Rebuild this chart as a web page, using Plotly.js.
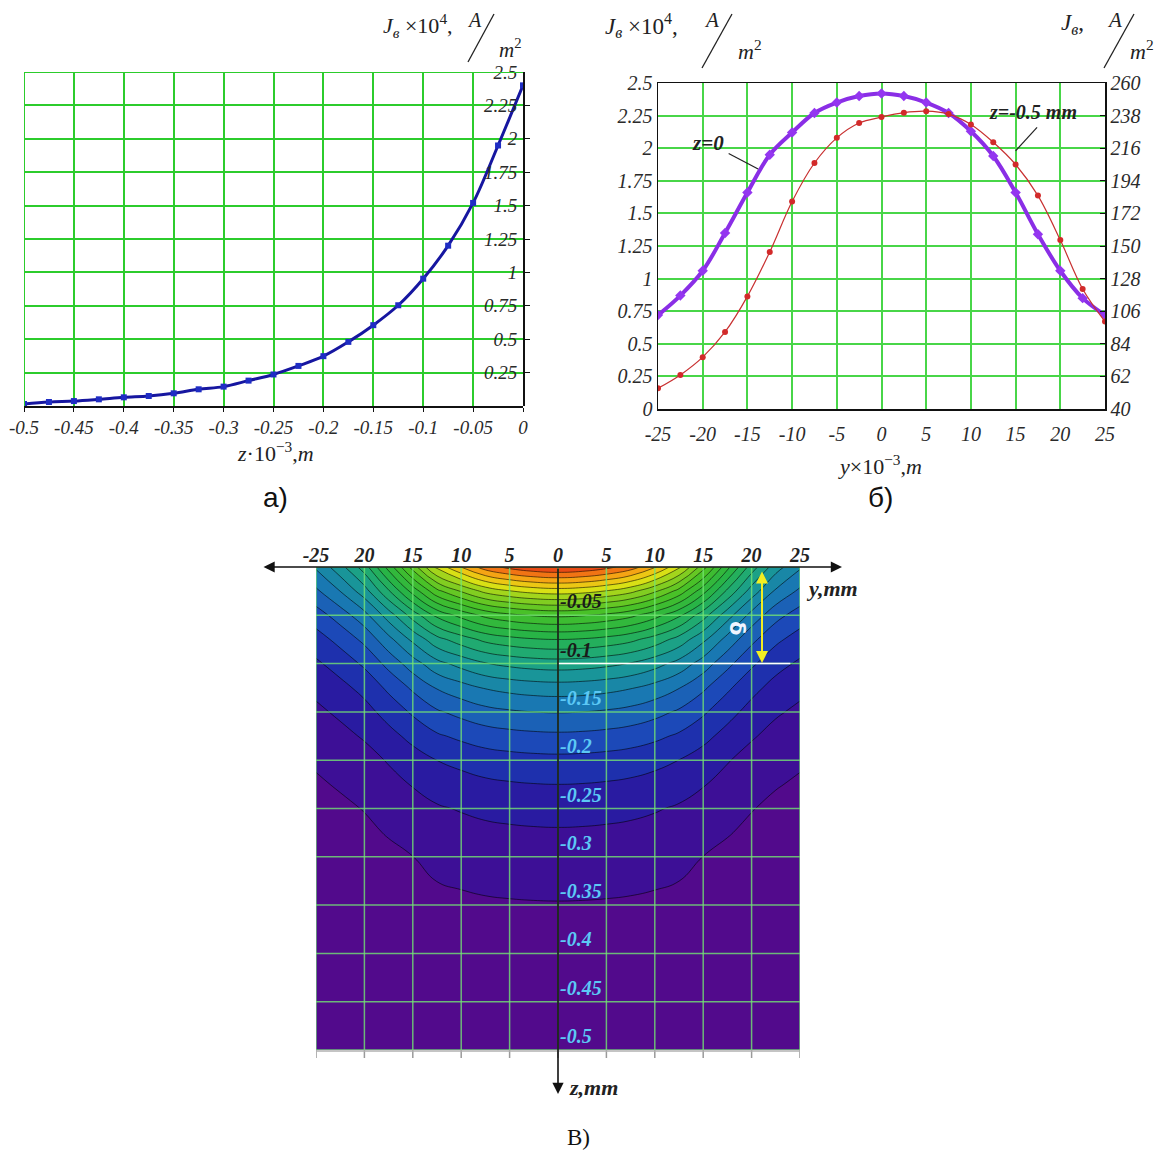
<!DOCTYPE html>
<html><head><meta charset="utf-8">
<script src="https://cdn.plot.ly/plotly-3.0.1.min.js"></script>
<style>html,body{margin:0;padding:0;background:#fff}#chart{width:1155px;height:1151px}</style>
</head><body><div id="chart"></div>
<script>
// ---------- Panel а): J vs depth z ----------
const depthZ = [-0.5,-0.475,-0.45,-0.425,-0.4,-0.375,-0.35,-0.325,-0.3,-0.275,-0.25,-0.225,-0.2,-0.175,-0.15,-0.125,-0.1,-0.075,-0.05,-0.025,0];
const depthJ = [0.015,0.03,0.037,0.05,0.065,0.075,0.095,0.125,0.145,0.19,0.236,0.30,0.373,0.48,0.605,0.754,0.953,1.20,1.52,1.95,2.40];
const aXTicks = [-0.5,-0.45,-0.4,-0.35,-0.3,-0.25,-0.2,-0.15,-0.1,-0.05,0];
const aXText = ['-0.5','-0.45','-0.4','-0.35','-0.3','-0.25','-0.2','-0.15','-0.1','-0.05','0'];
const aYTicks = [0.25,0.5,0.75,1,1.25,1.5,1.75,2,2.25,2.5];
const aYText = ['0.25','0.5','0.75','1','1.25','1.5','1.75','2','2.25','2.5'];

// ---------- Panel б): J vs y ----------
const lateralY = [-25,-22.5,-20,-17.5,-15,-12.5,-10,-7.5,-5,-2.5,0,2.5,5,7.5,10,12.5,15,17.5,20,22.5,25];
const jSurface = [0.72,0.87,1.06,1.35,1.66,1.95,2.12,2.27,2.35,2.40,2.42,2.40,2.35,2.27,2.13,1.94,1.66,1.34,1.06,0.85,0.72];
const jDeep = [54,63,75,92,116,146,180,206,223,233,237,240,241,239,232,220,205,184,154,121,99];
const bXTicks = [-25,-20,-15,-10,-5,0,5,10,15,20,25];
const bXText = ['-25','-20','-15','-10','-5','0','5','10','15','20','25'];
const bYTicks = [0,0.25,0.5,0.75,1,1.25,1.5,1.75,2,2.25,2.5];
const bYText = ['0','0.25','0.5','0.75','1','1.25','1.5','1.75','2','2.25','2.5'];
const bY2Ticks = [40,62,84,106,128,150,172,194,216,238,260];

// ---------- Panel В): contour map ----------
const cYTicks = [-25,-20,-15,-10,-5,0,5,10,15,20,25];
const cYText = ['-25','20','15','10','5','0','5','10','15','20','25'];
const cZTicks = [-0.05,-0.1,-0.15,-0.2,-0.25,-0.3,-0.35,-0.4,-0.45,-0.5];
const cZText = ['-0.05','-0.1','-0.15','-0.2','-0.25','-0.3','-0.35','-0.4','-0.45','-0.5'];
const cZColor = ['#1a1a1a','#1a1a1a','#5cc8f5','#5cc8f5','#5cc8f5','#5cc8f5','#5cc8f5','#5cc8f5','#5cc8f5','#5cc8f5'];
const cGridZ = [0,-0.05,-0.1,-0.15,-0.2,-0.25,-0.3,-0.35,-0.4,-0.45,-0.5];

// contour table built from the two read profiles (depth decay x lateral shape)
const peakJ = Math.max(...jSurface);
const field = depthZ.map((z, i) => jSurface.map(v => depthJ[i] * v / peakJ));

const W = 1155, H = 1151;
const px = x => x / W;
const py = y => 1 - y / H;

const serif = 'Liberation Serif';
const green = '#2ccc2c';

const traces = [
  {x: depthZ, y: depthJ, xaxis: 'x', yaxis: 'y', mode: 'lines+markers',
   line: {color: '#1616a0', width: 3, shape: 'spline'},
   marker: {symbol: 'square', size: 6, color: '#1f2dc4'}, hoverinfo: 'skip'},
  {x: lateralY, y: jSurface, xaxis: 'x2', yaxis: 'y2', mode: 'lines+markers',
   line: {color: '#8a2ee6', width: 4, shape: 'spline'},
   marker: {symbol: 'diamond', size: 8, color: '#9436f0'}, hoverinfo: 'skip'},
  {x: lateralY, y: jDeep, xaxis: 'x2', yaxis: 'y4', mode: 'lines+markers',
   line: {color: '#c83030', width: 1.2, shape: 'spline'},
   marker: {symbol: 'circle', size: 6, color: '#d22a2a'}, hoverinfo: 'skip'},
  {type: 'contour', x: lateralY, y: depthZ, z: field, xaxis: 'x3', yaxis: 'y3',
   contours: {start: 0.1, end: 2.4, size: 0.1, coloring: 'fill', showlines: true},
   line: {color: 'rgba(0,0,0,0.8)', width: 0.7, smoothing: 1.3},
   zmin: 0, zmax: 2.45, showscale: false, hoverinfo: 'skip',
   colorscale: [
     [0.0, 'rgb(82,10,140)'], [0.04, 'rgb(62,15,150)'], [0.08, 'rgb(42,25,160)'],
     [0.12, 'rgb(30,45,172)'], [0.17, 'rgb(28,75,185)'], [0.25, 'rgb(25,120,178)'],
     [0.33, 'rgb(25,148,155)'], [0.40, 'rgb(30,168,122)'], [0.5, 'rgb(40,180,70)'],
     [0.62, 'rgb(70,192,40)'], [0.74, 'rgb(150,210,30)'], [0.8, 'rgb(228,226,20)'],
     [0.87, 'rgb(245,170,20)'], [0.93, 'rgb(240,100,20)'], [1.0, 'rgb(220,35,20)']
   ]}
];

const tickFontA = {family: serif, size: 19, style: 'italic', color: '#2a2a2a'};
const tickFontB = {family: serif, size: 20, style: 'italic', color: '#2a2a2a'};

const shapes = [];
// panel а green top/left border lines
shapes.push({type: 'line', xref: 'x', yref: 'y', x0: -0.5, x1: 0, y0: 2.5, y1: 2.5, line: {color: green, width: 2}});
shapes.push({type: 'line', xref: 'x', yref: 'y', x0: -0.5, x1: -0.5, y0: 0, y1: 2.5, line: {color: green, width: 2}});
// contour grid drawn above the filled field
cYTicks.forEach(v => shapes.push({type: 'line', xref: 'x3', yref: 'y3', x0: v, x1: v, y0: -0.5, y1: 0,
  line: {color: 'rgba(115,228,115,0.8)', width: 1.5}, layer: 'above'}));
cGridZ.forEach(v => shapes.push({type: 'line', xref: 'x3', yref: 'y3', x0: -25, x1: 25, y0: v, y1: v,
  line: {color: 'rgba(115,228,115,0.8)', width: 1.5}, layer: 'above'}));
// bottom ticks of contour
cYTicks.forEach(v => shapes.push({type: 'line', xref: 'x3', yref: 'paper', x0: v, x1: v, y0: py(1050), y1: py(1058),
  line: {color: '#9a9a9a', width: 1.5}}));
shapes.push({type: 'line', xref: 'x3', yref: 'paper', x0: -25, x1: 25, y0: py(1051), y1: py(1051),
  line: {color: '#b0b0b0', width: 1.5}});
// white δ marker line
shapes.push({type: 'line', xref: 'x3', yref: 'y3', x0: 0, x1: 24, y0: -0.1, y1: -0.1,
  line: {color: '#ffffff', width: 1.5}, layer: 'above'});
// slashes in unit fractions
[[468, 62, 494, 14], [702, 68, 732, 14], [1104, 68, 1134, 14]].forEach(s =>
  shapes.push({type: 'line', xref: 'paper', yref: 'paper', x0: px(s[0]), y0: py(s[1]), x1: px(s[2]), y1: py(s[3]),
    line: {color: '#222', width: 1.3}}));
// panel б leader lines
shapes.push({type: 'line', xref: 'x2', yref: 'y2', x0: -17.1, y0: 1.96, x1: -13.8, y1: 1.84, line: {color: '#222', width: 1.2}});
shapes.push({type: 'line', xref: 'x2', yref: 'y2', x0: 17.4, y0: 2.16, x1: 15.0, y1: 1.98, line: {color: '#222', width: 1.2}});

const ann = [];
function pa(text, x, y, size, opts) {
  ann.push(Object.assign({text: text, xref: 'paper', yref: 'paper', x: px(x), y: py(y), showarrow: false,
    font: {family: serif, size: size, color: '#222'}, xanchor: 'center', yanchor: 'middle'}, opts || {}));
}
// panel а title
pa('<i>J<sub>в</sub></i> ×10<sup>4</sup>,', 418, 26, 22);
pa('<i>A</i>', 474, 20, 20);
pa('<i>m</i><sup>2</sup>', 510, 48, 21);
pa('<i>z</i>·10<sup>−3</sup>,<i>m</i>', 275, 452, 22);
// panel б titles
pa('<i>J<sub>в</sub></i> ×10<sup>4</sup>,', 641, 26, 23);
pa('<i>A</i>', 711, 20, 21);
pa('<i>m</i><sup>2</sup>', 750, 50, 22);
pa('<i>J<sub>в</sub></i>,', 1072, 24, 23);
pa('<i>A</i>', 1114, 20, 21);
pa('<i>m</i><sup>2</sup>', 1142, 50, 22);
pa('<i>y</i>×10<sup>−3</sup>,<i>m</i>', 880, 465, 22);
// panel labels
pa('а)', 275, 497, 27, {font: {family: 'Liberation Sans', size: 28, color: '#111'}});
pa('б)', 880, 497, 27, {font: {family: 'Liberation Sans', size: 28, color: '#111'}});
pa('В)', 578, 1137, 22, {font: {family: serif, size: 23, color: '#111'}});
// curve labels in panel б
ann.push({text: '<b><i>z=0</i></b>', xref: 'x2', yref: 'y2', x: -19.4, y: 2.04, showarrow: false,
  font: {family: serif, size: 21, color: '#222'}});
ann.push({text: '<b><i>z=-0.5 mm</i></b>', xref: 'x2', yref: 'y2', x: 17.0, y: 2.28, showarrow: false,
  font: {family: serif, size: 20, color: '#222'}});
// contour axes arrows
ann.push({text: '', xref: 'paper', yref: 'paper', axref: 'paper', ayref: 'paper',
  x: px(842), y: py(567), ax: px(262), ay: py(567), showarrow: true, arrowside: 'end+start',
  arrowhead: 2, startarrowhead: 2, arrowsize: 1.4, startarrowsize: 1.4, arrowwidth: 1.6, arrowcolor: '#111'});
ann.push({text: '', xref: 'paper', yref: 'paper', axref: 'paper', ayref: 'paper',
  x: px(558), y: py(1094), ax: px(558), ay: py(567), showarrow: true,
  arrowhead: 2, arrowsize: 1.4, arrowwidth: 1.6, arrowcolor: '#111'});
ann.push({text: '', xref: 'paper', yref: 'paper', axref: 'paper', ayref: 'paper',
  x: px(762), y: py(663), ax: px(762), ay: py(570), showarrow: true, arrowside: 'end+start',
  arrowhead: 2, startarrowhead: 2, arrowsize: 1.2, startarrowsize: 1.2, arrowwidth: 2, arrowcolor: '#f2ee22'});
pa('<b>δ</b>', 737, 628, 21, {textangle: 90, font: {family: 'DejaVu Sans', size: 21, color: '#f0f4ff'}});
pa('<b><i>y,mm</i></b>', 804, 588, 22, {xanchor: 'left'});
pa('<b><i>z,mm</i></b>', 567, 1087, 22, {xanchor: 'left'});

const layout = {
  width: W, height: H, margin: {l: 0, r: 0, t: 0, b: 0},
  paper_bgcolor: '#fff', plot_bgcolor: '#fff', showlegend: false,
  xaxis: {domain: [px(24), px(523)], anchor: 'y', range: [-0.5, 0], tickvals: aXTicks, ticktext: aXText,
    tickangle: 0, showgrid: true, gridcolor: green, gridwidth: 2, zeroline: false,
    showline: true, linecolor: '#111', linewidth: 1.5, ticks: 'outside', ticklen: 4, tickcolor: '#111',
    tickfont: tickFontA, fixedrange: true},
  yaxis: {domain: [py(406), py(72)], anchor: 'free', position: px(523), side: 'left', range: [0, 2.5],
    tickvals: aYTicks, ticktext: aYText, ticklabelstandoff: 2,
    showgrid: true, gridcolor: green, gridwidth: 2, zeroline: false,
    showline: true, linecolor: '#111', linewidth: 1.5, ticks: 'inside', ticklen: 5, tickcolor: '#111',
    tickfont: tickFontA, fixedrange: true},
  xaxis2: {domain: [px(658), px(1105)], anchor: 'y2', range: [-25, 25], tickvals: bXTicks, ticktext: bXText,
    tickangle: 0, showgrid: true, gridcolor: '#48d648', gridwidth: 2, zeroline: false,
    showline: true, mirror: true, linecolor: '#111', linewidth: 1.5, ticks: '', ticklabelstandoff: 6,
    tickfont: tickFontB, fixedrange: true},
  yaxis2: {domain: [py(409), py(83)], anchor: 'x2', range: [0, 2.5], tickvals: bYTicks, ticktext: bYText,
    showgrid: true, gridcolor: '#48d648', gridwidth: 2, zeroline: false,
    showline: true, mirror: true, linecolor: '#111', linewidth: 1.5, ticks: '',
    tickfont: tickFontB, fixedrange: true},
  yaxis4: {overlaying: 'y2', anchor: 'x2', side: 'right', range: [40, 260], tickvals: bY2Ticks,
    showgrid: false, zeroline: false, showline: true, linecolor: '#111', linewidth: 1.5,
    ticks: 'inside', ticklen: 5, tickcolor: '#111',
    tickfont: tickFontB, fixedrange: true},
  xaxis3: {domain: [px(316), px(800)], anchor: 'y3', side: 'top', range: [-25, 25], tickvals: cYTicks, ticktext: cYText,
    tickangle: 0, showgrid: false, zeroline: false, showline: false, ticks: '',
    tickfont: {family: serif, size: 20, style: 'italic', weight: 'bold', color: '#222'}, fixedrange: true},
  yaxis3: {domain: [py(1050), py(567)], anchor: 'free', position: px(559), side: 'right', range: [-0.5, 0],
    tickvals: cZTicks, ticktext: cZText.map((t, i) => '<span style="color:' + cZColor[i] + '">' + t + '</span>'),
    ticklabelposition: 'outside top', showgrid: false, zeroline: false, showline: false, ticks: '',
    tickfont: {family: serif, size: 20, style: 'italic', weight: 'bold', color: '#5cc8f5'}, fixedrange: true},
  shapes: shapes,
  annotations: ann
};

Plotly.newPlot('chart', traces, layout, {displayModeBar: false, staticPlot: true});
</script>
</body></html>
